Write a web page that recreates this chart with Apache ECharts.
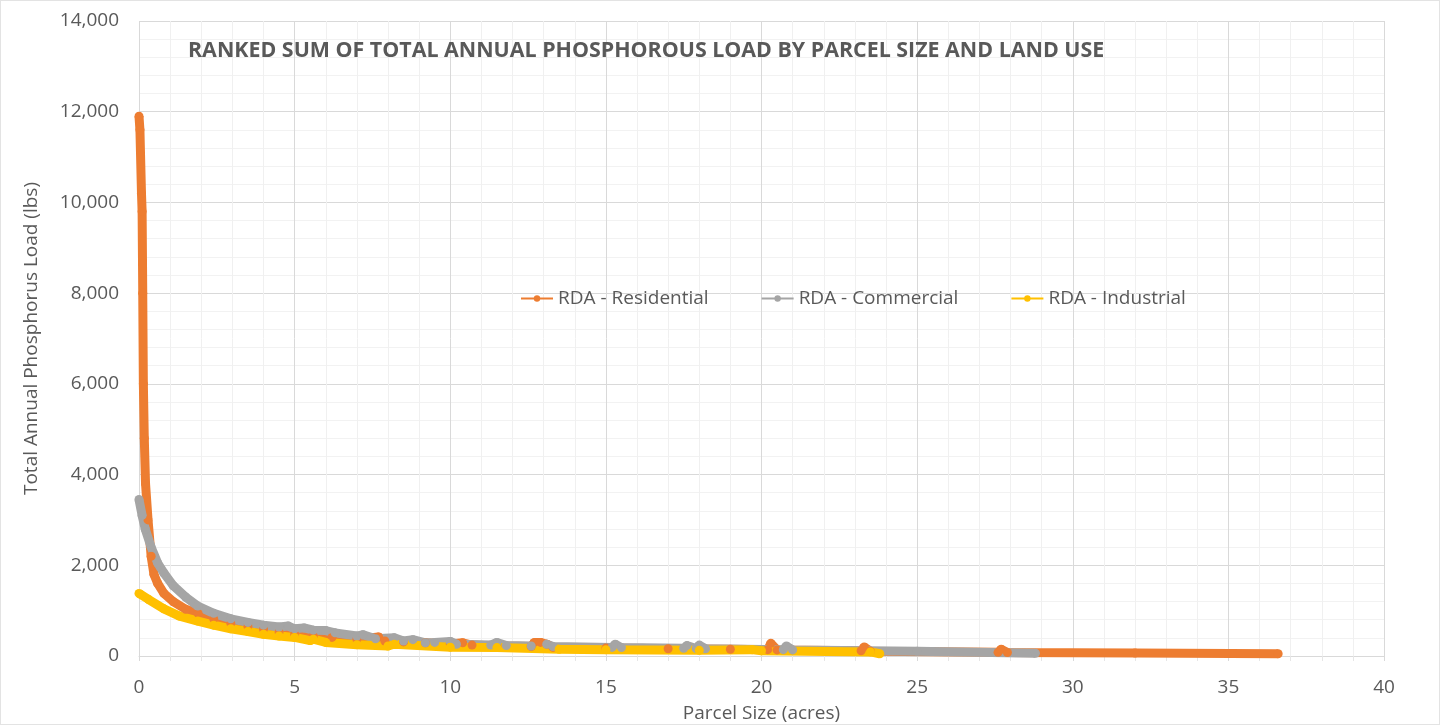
<!DOCTYPE html>
<html>
<head>
<meta charset="utf-8">
<script src="https://cdn.jsdelivr.net/npm/echarts@6/dist/echarts.min.js"></script>
<style>
  html, body { margin: 0; padding: 0; background: #fff; }
  #main { width: 1440px; height: 725px; box-sizing: border-box; border: 1px solid #e3e3e3; }
</style>
</head>
<body>
<div id="main"></div>
<script>
// data
var resX = [0, 0.03, 0.08, 0.1, 0.12, 0.14, 0.17, 0.21, 0.29, 0.39, 0.48, 0.6, 0.8, 1.1, 1.5, 1.9, 2.4, 2.95, 3.5, 4.0, 4.5, 5.0, 5.6, 6.2, 7.0, 7.7, 7.9, 8.5, 9.2, 10.0, 10.4, 10.7, 11.5, 12.6, 12.7, 12.9, 13.1, 13.3, 15, 17, 19, 20.2, 20.3, 20.5, 23.2, 23.3, 23.5, 27.6, 27.7, 27.9, 32, 36.6];
var resY = [11900, 11600, 10200, 9800, 8000, 6000, 4800, 3800, 3000, 2200, 1800, 1600, 1380, 1200, 1030, 940, 820, 720, 650, 590, 530, 480, 440, 410, 370, 420, 330, 310, 290, 265, 290, 240, 220, 210, 300, 300, 260, 190, 175, 160, 150, 140, 280, 135, 115, 200, 105, 80, 150, 78, 65, 50];

var comX = [0, 0.1, 0.2, 0.39, 0.6, 0.8, 1.1, 1.5, 1.89, 2.4, 2.95, 3.5, 4.0, 4.5, 4.8, 5.0, 5.3, 5.6, 6.0, 6.3, 7.0, 7.2, 7.6, 8.2, 8.5, 8.8, 9.2, 9.5, 10.0, 10.2, 11.3, 11.5, 11.8, 12.6, 13.1, 13.3, 15.2, 15.3, 15.5, 17.5, 17.6, 17.9, 18.0, 18.2, 20.7, 20.8, 21, 25, 28.8];
var comY = [3450, 3100, 2800, 2400, 2050, 1830, 1550, 1300, 1100, 940, 820, 740, 680, 640, 660, 600, 620, 570, 560, 510, 440, 470, 380, 400, 330, 360, 290, 300, 320, 260, 240, 300, 230, 220, 260, 210, 190, 260, 185, 170, 230, 165, 240, 160, 140, 220, 135, 105, 60];

var indX = [0, 0.3, 0.8, 1.3, 1.89, 2.4, 2.95, 3.5, 4.0, 4.5, 5.0, 5.5, 5.6, 6.0, 7.0, 8.0, 8.2, 10, 11.5, 13.5, 15, 18, 19.7, 20, 23.5, 23.8];
var indY = [1380, 1250, 1040, 880, 770, 680, 600, 540, 480, 440, 410, 340, 370, 300, 250, 220, 260, 195, 185, 150, 140, 125, 140, 115, 90, 50];

var seriesNames = ['RDA - Residential', 'RDA - Commercial', 'RDA - Industrial'];
var seriesColors = ['#ED7D31', '#A5A5A5', '#FFC000'];

function pairs(xs, ys) {
  return xs.map(function (x, i) { return [x, ys[i]]; });
}

var font = '"Open Sans", "Noto Sans", sans-serif';
var txt = '#595959';

var chart = echarts.init(document.getElementById('main'));

var lists = [pairs(resX, resY), pairs(comX, comY), pairs(indX, indY)];

chart.setOption({
  animation: false,
  textStyle: { fontFamily: font },
  title: {
    text: 'RANKED SUM OF TOTAL ANNUAL PHOSPHOROUS LOAD BY PARCEL SIZE AND LAND USE',
    left: 182,
    top: 34,
    textStyle: { color: txt, fontSize: 21.4, fontWeight: 'bold', fontFamily: font }
  },
  legend: {
    left: 514,
    top: 283,
    itemGap: 52,
    itemWidth: 32,
    itemHeight: 8,
    textStyle: { color: txt, fontSize: 19, fontFamily: font },
    data: seriesNames
  },
  grid: { left: 138, right: 55, top: 20, bottom: 68, outerBoundsMode: 'none' },
  xAxis: {
    type: 'value',
    min: 0,
    max: 40,
    interval: 5,
    name: 'Parcel Size (acres)',
    nameLocation: 'middle',
    nameGap: 48,
    nameTextStyle: { color: txt, fontSize: 19 },
    axisLine: { show: true, lineStyle: { color: '#d9d9d9' } },
    axisTick: { show: true, length: 5, lineStyle: { color: '#d9d9d9' } },
    minorTick: { show: true, splitNumber: 5, length: 5, lineStyle: { color: '#e6e6e6' } },
    axisLabel: { color: txt, fontSize: 19, margin: 22 },
    splitLine: { show: true, lineStyle: { color: '#d9d9d9' } },
    minorSplitLine: { show: true, lineStyle: { color: '#f0f0f0' } }
  },
  yAxis: {
    type: 'value',
    min: 0,
    max: 14000,
    interval: 2000,
    name: 'Total Annual Phosphorus Load (lbs)',
    nameLocation: 'middle',
    nameGap: 98,
    nameTextStyle: { color: txt, fontSize: 19 },
    axisLine: { show: false },
    axisTick: { show: false },
    axisLabel: {
      color: txt,
      fontSize: 19,
      margin: 20,
      formatter: function (v) { return v.toLocaleString('en-US'); }
    },
    splitLine: { show: true, lineStyle: { color: '#d9d9d9' } },
    minorSplitLine: { show: true, lineStyle: { color: '#f2f2f2' } }
  },
  series: lists.map(function (d, i) {
    return {
      name: seriesNames[i],
      type: 'line',
      data: d,
      color: seriesColors[i],
      symbol: 'circle',
      symbolSize: 9,
      showAllSymbol: true,
      lineStyle: { width: 9, color: seriesColors[i] },
      itemStyle: { color: seriesColors[i] }
    };
  })
});
</script>
</body>
</html>
